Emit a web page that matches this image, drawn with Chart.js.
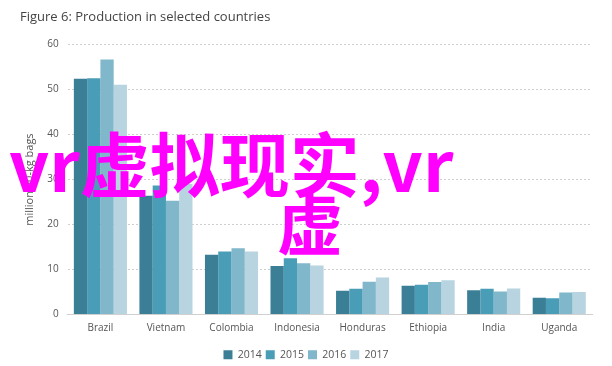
<!DOCTYPE html>
<html>
<head>
<meta charset="utf-8">
<script src="https://cdn.jsdelivr.net/npm/chart.js@4/dist/chart.umd.min.js"></script>
<style>
  body { margin: 0; background: #fff; }
  #wrap { position: relative; width: 612px; height: 366px; }
  .vr {
    position: absolute;
    color: #ff00ff;
    font-family: "Noto Sans CJK SC", sans-serif;
    font-weight: bold;
    font-size: 70px;
    line-height: 1;
    white-space: nowrap;
  }
</style>
</head>
<body>
<div id="wrap">
  <canvas id="chart" width="612" height="366"></canvas>
  <div class="vr" style="left:9px; top:127px;">vr虚拟现实,vr</div>
  <div class="vr" style="left:277px; top:187px; font-size:66px;">虚</div>
</div>
<script>
const pays = ["Brazil", "Vietnam", "Colombia", "Indonesia", "Honduras", "Ethiopia", "India", "Uganda"];
const annees = ["2014", "2015", "2016", "2017"];
const v2014 = [52.4, 26.4, 13.3, 10.8, 5.3, 6.4, 5.4, 3.7];
const v2015 = [52.5, 28.7, 14.0, 12.5, 5.7, 6.6, 5.7, 3.6];
const v2016 = [56.7, 25.3, 14.7, 11.4, 7.3, 7.2, 5.1, 4.9];
const v2017 = [51.1, 29.0, 14.0, 10.9, 8.2, 7.6, 5.8, 5.0];
const couleurs = ["#3b7f96", "#4a9db6", "#80b7cb", "#b7d4e0"];

const valeurs = [v2014, v2015, v2016, v2017];

new Chart(document.getElementById("chart").getContext("2d"), {
    type: "bar",
    data: {
        labels: pays,
        datasets: annees.map((a, i) => ({
            label: a,
            data: valeurs[i],
            backgroundColor: couleurs[i],
            borderWidth: 0
        }))
    },
    options: {
        responsive: false,
        animation: false,
        layout: { padding: { left: 20, right: 20, top: 0, bottom: -4 } },
        datasets: { bar: { barPercentage: 1, categoryPercentage: 0.81 } },
        plugins: {
            title: {
                display: true,
                text: "Figure 6: Production in selected countries",
                align: "start",
                color: "#444",
                font: { family: "Open Sans", size: 13, weight: "normal" },
                padding: { top: 9, bottom: 20 }
            },
            legend: {
                position: "bottom",
                labels: {
                    boxWidth: 9,
                    boxHeight: 9,
                    padding: 4,
                    color: "#555",
                    font: { family: "Open Sans", size: 10.5 }
                }
            },
            tooltip: { enabled: false }
        },
        scales: {
            x: {
                grid: { display: false },
                border: { color: "#d0d0d0" },
                ticks: { color: "#555", font: { family: "Open Sans", size: 10 }, padding: 0 },
                // espace en plus sous les noms de pays
                afterFit: (scale) => { scale.height += 11; }
            },
            y: {
                min: 0,
                max: 60,
                ticks: { stepSize: 10, color: "#555", font: { family: "Open Sans", size: 10 }, padding: 9 },
                grid: { color: "#cfcfcf", drawTicks: false },
                border: { display: false, dash: [2, 2] },
                title: {
                    display: true,
                    text: "million 60-kg bags",
                    color: "#555",
                    font: { family: "Open Sans", size: 11 },
                    padding: { top: 3, bottom: 2 }
                }
            }
        }
    }
});
</script>
</body>
</html>
